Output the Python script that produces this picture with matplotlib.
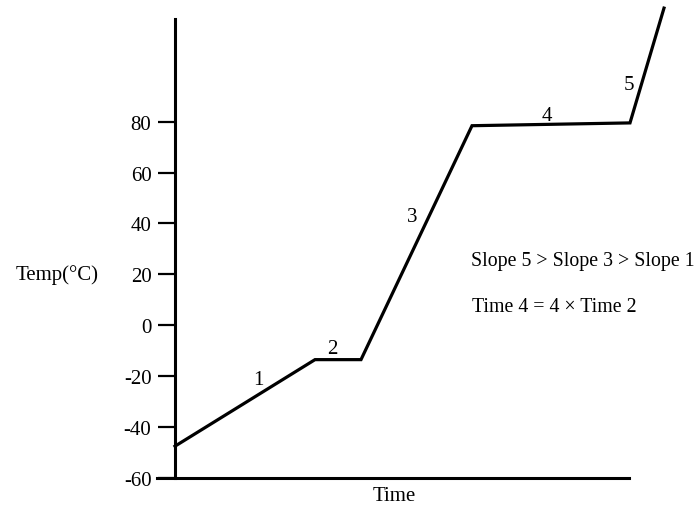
import matplotlib
matplotlib.use("Agg")
import matplotlib.pyplot as plt

# heating curve: time (arbitrary units) vs temperature
time = [0.0, 14.0, 18.6, 29.7, 45.5, 48.9]
temp = [-47.5, -13.5, -13.5, 78.4, 79.5, 124.6]

seg_labels = ["1", "2", "3", "4", "5"]
seg_pos = [(8.3, -21.5), (15.7, -9.3), (23.7, 42.6), (37.2, 82.6), (45.4, 94.4)]
yticks = [-60, -40, -20, 0, 20, 40, 60, 80]

plt.rcParams["font.family"] = "Liberation Serif"
plt.rcParams["font.size"] = 15

fig = plt.figure(figsize=(7, 5.06), dpi=100)
ax = fig.add_axes([150 / 700, 27 / 506, 540 / 700, 476 / 506])

ax.plot(time, temp, color="black", lw=2.3, solid_joinstyle="miter", clip_on=False)

ax.set_xlim(-2.5, 51.5)
ax.set_ylim(-60, 127)

for s in ["top", "right"]:
    ax.spines[s].set_visible(False)
ax.spines["left"].set_position(("data", 0))
ax.spines["left"].set_bounds(-60, 120.4)
ax.spines["bottom"].set_position(("data", -60))
ax.spines["bottom"].set_bounds(-1.8, 45.4)
for s in ["left", "bottom"]:
    ax.spines[s].set_linewidth(2.2)

ax.set_yticks(yticks)
ax.set_yticklabels([str(v) for v in yticks])
ax.tick_params(axis="y", direction="out", length=12, width=1.6, pad=5)
ax.set_xticks([])

for lab, (x, y) in zip(seg_labels, seg_pos):
    ax.text(x, y, lab, ha="center", va="center")

ax.text(29.6, 25.3, "Slope 5 > Slope 3 > Slope 1", ha="left", va="center", fontsize=14.3)
ax.text(29.7, 7.2, "Time 4 = 4 \u00d7 Time 2", ha="left", va="center", fontsize=14.3)
ax.text(-11.8, 20, "Temp(\u00b0C)", ha="center", va="center", clip_on=False)
ax.text(21.9, -67, "Time", ha="center", va="center", clip_on=False)

fig.savefig("out.png", dpi=100)
